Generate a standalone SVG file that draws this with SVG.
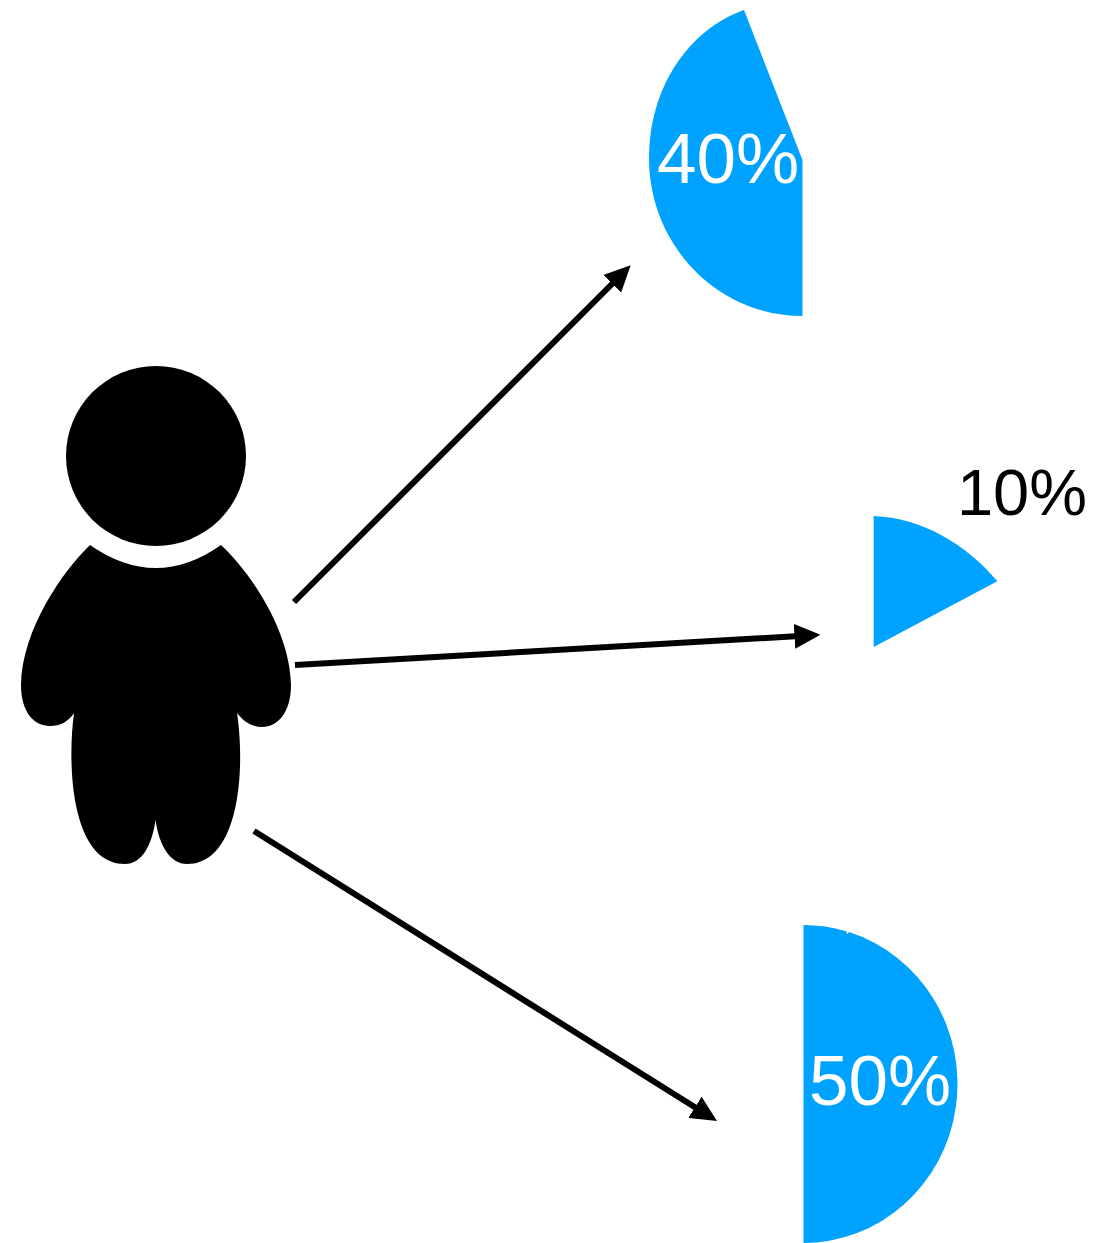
<svg xmlns="http://www.w3.org/2000/svg" width="1094" height="1243" viewBox="0 0 1094 1243">
<style>
.pie{fill:#00a2ff}
.lbl{font-family:"Liberation Sans",Arial,sans-serif;font-size:71px;text-anchor:middle}
.conn{stroke:#000;stroke-width:6;fill:none;marker-end:url(#arr)}
</style>
<defs><marker id="arr" markerUnits="userSpaceOnUse" markerWidth="26" markerHeight="25" refX="1" refY="12.5" orient="auto"><path d="M0 0L26 12.5L0 25Z" fill="#000"/></marker></defs>
<rect width="1094" height="1243" fill="#fff"/>
<g id="person">
<circle cx="156" cy="456" r="90"/>
<path d="M90 545Q156 591 221 545C250 572 290 630 291 685C291 712 278 727 262 727C252 727 244 722 237 713C245 765 241 864 187 864C170 864 159 845 155.500 820C152 845 142 864 125 864C71 864 67 765 74 713C68 722 60 726 50 726C34 726 21 712 21 685C22 630 62 572 90 545Z"/>
</g>
<g id="connectors">
<line class="conn" x1="294" y1="602" x2="613" y2="283"/>
<line class="conn" x1="295" y1="665" x2="795.500" y2="636.300"/>
<line class="conn" x1="254" y1="831" x2="695.800" y2="1107.800"/>
</g>
<g id="pie40"><path class="pie" d="M744 10C688 30 649 88 649 158C649 245 717 316 802.500 316V160Z"/><text class="lbl" x="728" y="182.500" fill="#fff">40%</text></g>
<g id="pie10"><path class="pie" d="M873.700 516C922 518 966 544 997.300 581.300L873.700 647Z"/><text class="lbl" x="1022" y="515" fill="#000" style="font-size:65px">10%</text></g>
<g id="pie50"><path class="pie" d="M803.500 925A154 159 0 0 1 846 931.200L847.500 934L849 932.100A154 159 0 0 1 803.500 1243Z"/><text class="lbl" x="880" y="1105" fill="#fff">50%</text></g>
</svg>
